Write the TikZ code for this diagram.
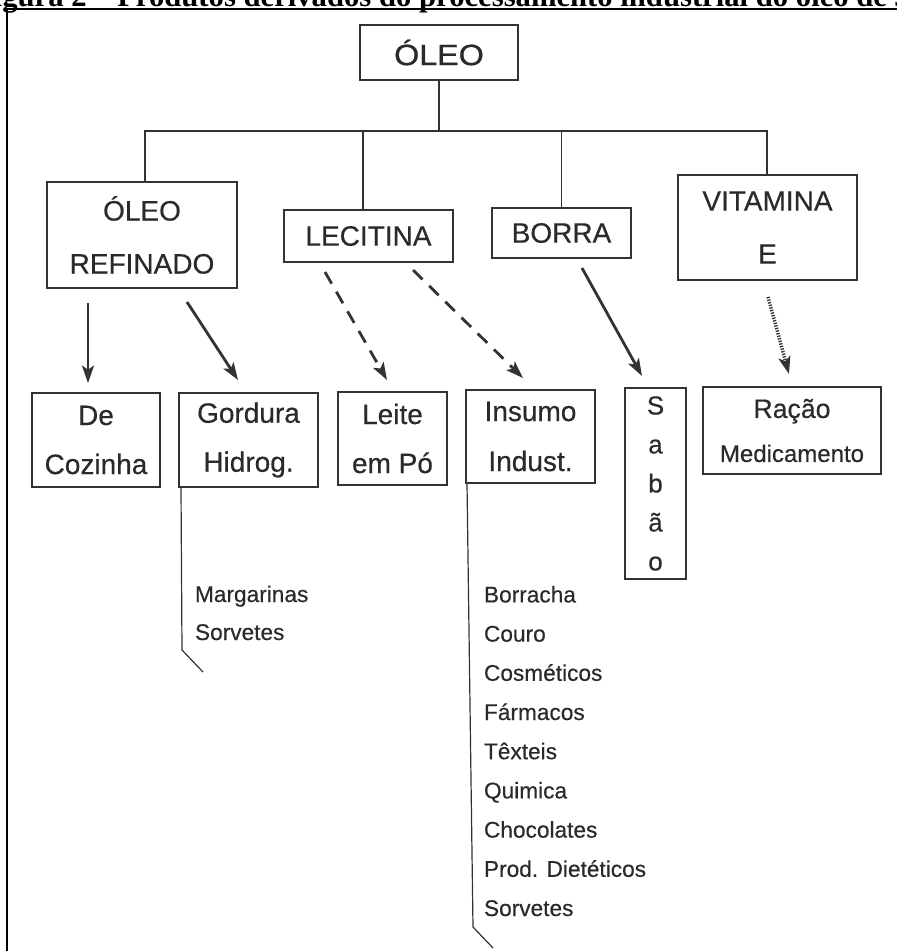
\documentclass[tikz,border=0pt]{standalone}
\usepackage{graphicx}
\usepackage{fontspec}
\setmainfont{Liberation Sans}[FakeBold=0.4]
\newfontfamily\capfont{Liberation Serif}
\newfontfamily\headfont[FakeBold=0.8]{Liberation Sans}
\usetikzlibrary{arrows.meta}
\definecolor{inkgray}{HTML}{333333}
\definecolor{textgray}{HTML}{2A2A2A}
\begin{document}
\begin{tikzpicture}[x=0.75pt,y=-0.75pt,
  frame/.style={draw=black, line width=2.2pt},
  ink/.style={draw=inkgray, line width=1.1pt},
  box/.style={ink, fill=white, inner sep=0pt, outer sep=0pt, align=center,
    text=textgray, font=\fontsize{21}{39.75}\selectfont},
  listtext/.style={inner sep=0pt, outer sep=0pt, align=left, text=textgray},
  solidarrow/.style={draw=inkgray, line width=2.1pt,
    -{Stealth[length=13pt,width=9pt,inset=3pt]}},
  dasharrow/.style={solidarrow, dash pattern=on 10pt off 7pt},
  dotarrow/.style={solidarrow, line width=2.6pt, dash pattern=on 1pt off 1pt},
  titletext/.style={inner sep=0pt, outer sep=0pt, font=\capfont\bfseries\fontsize{23}{23}\selectfont}
]
\useasboundingbox (0,0) rectangle (897,951);
\clip (0,0) rectangle (897,951);

% caption row and frame of the table cell
\node[titletext, anchor=base west] (title) at (-25,6)
  {Figura 2 – Produtos derivados do processamento industrial do óleo de soja};
\draw[frame] (7,951) -- (7,9) -- (897,9);
\draw[frame] (423,0) -- (423,9);

% top level
\node[box, minimum width=118.5pt, minimum height=41.25pt] (oleo) at (439,52.5)
  {\scalebox{1.1}[1]{\headfont\fontsize{22}{22}\selectfont ÓLEO}};

% second level
\node[box, minimum width=142.5pt, minimum height=79.5pt] (refinado) at (142,235) {ÓLEO\\REFINADO};
\node[box, minimum width=126.75pt, minimum height=39pt] (lecitina) at (368.5,236) {LECITINA};
\node[box, minimum width=104.25pt, minimum height=37.5pt] (borra) at (561.5,233) {BORRA};
\node[box, minimum width=134.25pt, minimum height=78.75pt] (vitamina) at (767.5,227.5) {VITAMINA\\E};

% bus joining the levels
\coordinate (busL) at (145,131);
\coordinate (busR) at (767,131);
\draw[ink] (oleo.south) -- (oleo.south |- busL);
\draw[ink] (refinado.north -| busL) -- (busL) -- (busR) -- (vitamina.north -| busR);
\draw[ink] (lecitina.north -| 363,0) -- (363,131);
\draw[ink] (borra.north) -- (borra.north |- busL);

% third level
\node[box, minimum width=96pt, minimum height=70.5pt, font=\fontsize{21}{36.75}\selectfont] (cozinha) at (96,440) {De\\Cozinha};
\node[box, minimum width=104.25pt, minimum height=70.5pt, font=\fontsize{21}{36.75}\selectfont] (gordura) at (248.5,440) {Gordura\\Hidrog.};
\node[box, minimum width=81.75pt, minimum height=69.75pt, font=\fontsize{21}{36.75}\selectfont] (leite) at (392.5,438.5) {Leite\\em Pó};
\node[box, minimum width=96.75pt, minimum height=69.75pt, font=\fontsize{21}{37.5}\selectfont] (insumo) at (530.5,436.5) {Insumo\\Indust.};
\node[box, minimum width=45.75pt, minimum height=143.25pt, font=\fontsize{19.5}{29.25}\selectfont] (sabao) at (655.5,483.5) {S\\a\\b\\ã\\o};
\node[box, minimum width=133.5pt, minimum height=65.25pt, font=\fontsize{20}{33}\selectfont] (racao) at (792,430.5)
  {Ração\\\fontsize{18}{33}\selectfont Medicamento};

% arrows between the levels
\coordinate (a1s) at (88,303);  \coordinate (a1e) at (88,383);
\coordinate (a2s) at (187,302); \coordinate (a2e) at (238,380);
\coordinate (a3s) at (325,272); \coordinate (a3e) at (387,380);
\coordinate (a4s) at (413,270); \coordinate (a4e) at (523,378);
\coordinate (a5s) at (582,268); \coordinate (a5e) at (642,376);
\coordinate (a6s) at (768,297); \coordinate (a6e) at (789,374);
\draw[solidarrow] (a1s) -- (a1e);
\draw[solidarrow] (a2s) -- (a2e);
\draw[dasharrow] (a3s) -- (a3e);
\draw[dasharrow] (a4s) -- (a4e);
\draw[solidarrow] (a5s) -- (a5e);
\draw[dotarrow] (a6s) -- (a6e);

% product lists with their brackets (each list is placed by its last line)
\draw[ink, line width=0.9pt] (gordura.south west) ++(2,1) -- ++(1,162) -- ++(21,22);
\node[listtext, anchor=base west, font=\fontsize{17}{28.5}\selectfont] (gordlist) at (195,640)
  {Margarinas\\Sorvetes};
\draw[ink, line width=0.9pt] (insumo.south west) ++(1,0) -- ++(6,444) -- ++(20,21);
\node[listtext, anchor=base west, font=\fontsize{17}{29.4}\selectfont] (insumolist) at (484,916)
  {Borracha\\Couro\\Cosméticos\\Fármacos\\Têxteis\\Quimica\\Chocolates\\Prod. Dietéticos\\Sorvetes};
\end{tikzpicture}
\end{document}
